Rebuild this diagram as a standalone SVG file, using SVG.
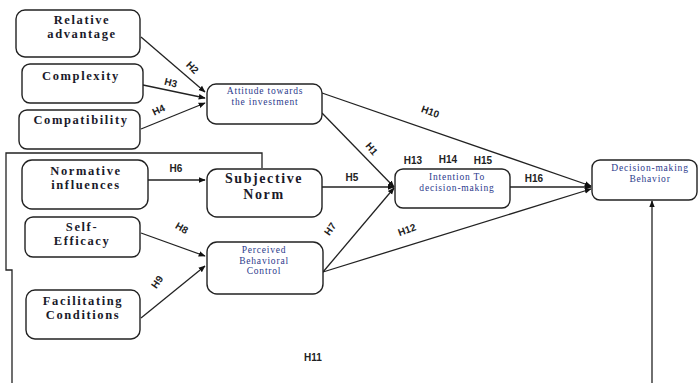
<svg xmlns="http://www.w3.org/2000/svg" width="698" height="383" viewBox="0 0 698 383">
<style>
.box{fill:#fff;stroke:#222;stroke-width:1.4}
.big{font-family:"Liberation Serif",serif;font-weight:bold;font-size:12.5px;letter-spacing:1.6px;fill:#1a1a2a;text-anchor:middle}
.sn{font-family:"Liberation Serif",serif;font-weight:bold;font-size:14px;letter-spacing:1.6px;fill:#1a1a2a;text-anchor:middle}
.sm{font-family:"Liberation Serif",serif;font-size:9.5px;letter-spacing:0.8px;fill:#2b3a8c;text-anchor:middle}
.lbl{font-family:"Liberation Sans",Arial,sans-serif;font-weight:bold;font-size:10px;fill:#222;text-anchor:middle}
.ln{stroke:#222;stroke-width:1.3;fill:none}
</style>
<defs>
<marker id="ah" viewBox="0 0 10 10" refX="9" refY="5" markerWidth="7" markerHeight="7" orient="auto" markerUnits="userSpaceOnUse">
<path d="M0,1 L10,5 L0,9 z" fill="#111"/>
</marker>
</defs>

<g id="bracket">
<path class="ln" d="M262,168 L262,153 L6,153 L6,270 L12,270 L12,383"/>
</g>

<g id="connectors">
<line class="ln" x1="141" y1="37" x2="205" y2="92" marker-end="url(#ah)"/>
<line class="ln" x1="143" y1="85" x2="205" y2="98" marker-end="url(#ah)"/>
<line class="ln" x1="141" y1="129" x2="205" y2="103" marker-end="url(#ah)"/>
<line class="ln" x1="148" y1="180" x2="205" y2="180" marker-end="url(#ah)"/>
<line class="ln" x1="141" y1="233" x2="205" y2="256" marker-end="url(#ah)"/>
<line class="ln" x1="141" y1="318" x2="205" y2="266" marker-end="url(#ah)"/>
<line class="ln" x1="322" y1="113" x2="394" y2="187" marker-end="url(#ah)"/>
<line class="ln" x1="322" y1="93" x2="591" y2="186" marker-end="url(#ah)"/>
<line class="ln" x1="322" y1="187" x2="394" y2="187" marker-end="url(#ah)"/>
<line class="ln" x1="323" y1="272" x2="394" y2="188" marker-end="url(#ah)"/>
<line class="ln" x1="323" y1="272" x2="591" y2="189" marker-end="url(#ah)"/>
<line class="ln" x1="510" y1="187" x2="591" y2="187" marker-end="url(#ah)"/>
<line class="ln" x1="652" y1="383" x2="652" y2="201" marker-end="url(#ah)"/>
</g>

<g id="labels">
<text class="lbl" transform="translate(190,70) rotate(45)">H2</text>
<text class="lbl" transform="translate(170,86) rotate(14)">H3</text>
<text class="lbl" transform="translate(160,113) rotate(-25)">H4</text>
<text class="lbl" x="176" y="172" font-size="11">H6</text>
<text class="lbl" transform="translate(180,231) rotate(30)">H8</text>
<text class="lbl" transform="translate(160,284) rotate(-55)">H9</text>
<text class="lbl" transform="translate(369,151) rotate(50)">H1</text>
<text class="lbl" transform="translate(429,115) rotate(20)">H10</text>
<text class="lbl" x="352" y="181">H5</text>
<text class="lbl" transform="translate(333,231) rotate(-55)">H7</text>
<text class="lbl" transform="translate(408,233) rotate(-20)">H12</text>
<text class="lbl" x="413" y="164" font-size="7.5">H13</text>
<text class="lbl" x="448" y="163" font-size="7.5">H14</text>
<text class="lbl" x="483" y="164" font-size="7.5">H15</text>
<text class="lbl" x="534" y="182">H16</text>
<text class="lbl" x="313" y="361" font-size="12">H11</text>
</g>

<g id="relative-advantage">
<rect class="box" x="16" y="10" width="124" height="47" rx="9"/>
<text class="big" x="82" y="24">Relative</text>
<text class="big" x="82" y="38">advantage</text>
</g>
<g id="complexity">
<rect class="box" x="22" y="64" width="121" height="39" rx="8"/>
<text class="big" x="81" y="80">Complexity</text>
</g>
<g id="compatibility">
<rect class="box" x="19" y="110" width="121" height="39" rx="8"/>
<text class="big" x="81" y="124">Compatibility</text>
</g>
<g id="attitude">
<rect class="box" x="207" y="84" width="115" height="40" rx="9"/>
<text class="sm" x="265" y="94">Attitude towards</text>
<text class="sm" x="265" y="105">the investment</text>
</g>
<g id="normative-influences">
<rect class="box" x="22" y="160" width="126" height="49" rx="10"/>
<text class="big" x="86" y="175">Normative</text>
<text class="big" x="86" y="189">influences</text>
</g>
<g id="subjective-norm">
<rect class="box" x="207" y="169" width="115" height="48" rx="10"/>
<text class="sn" x="264" y="183">Subjective</text>
<text class="sn" x="264" y="199">Norm</text>
</g>
<g id="self-efficacy">
<rect class="box" x="25" y="217" width="115" height="40" rx="8"/>
<text class="big" x="82" y="231">Self-</text>
<text class="big" x="82" y="245">Efficacy</text>
</g>
<g id="pbc">
<rect class="box" x="207" y="242" width="116" height="52" rx="10"/>
<text class="sm" x="264" y="253">Perceived</text>
<text class="sm" x="264" y="263.5">Behavioral</text>
<text class="sm" x="264" y="274">Control</text>
</g>
<g id="facilitating-conditions">
<rect class="box" x="26" y="290" width="114" height="49" rx="9"/>
<text class="big" x="83" y="305">Facilitating</text>
<text class="big" x="83" y="319">Conditions</text>
</g>
<g id="intention">
<rect class="box" x="395" y="169" width="115" height="39" rx="8"/>
<text class="sm" x="457" y="180">Intention To</text>
<text class="sm" x="457" y="191">decision-making</text>
</g>
<g id="decision-behavior">
<rect class="box" x="592" y="160" width="105" height="40" rx="8"/>
<text class="sm" x="650" y="171">Decision-making</text>
<text class="sm" x="650" y="182">Behavior</text>
</g>
</svg>
